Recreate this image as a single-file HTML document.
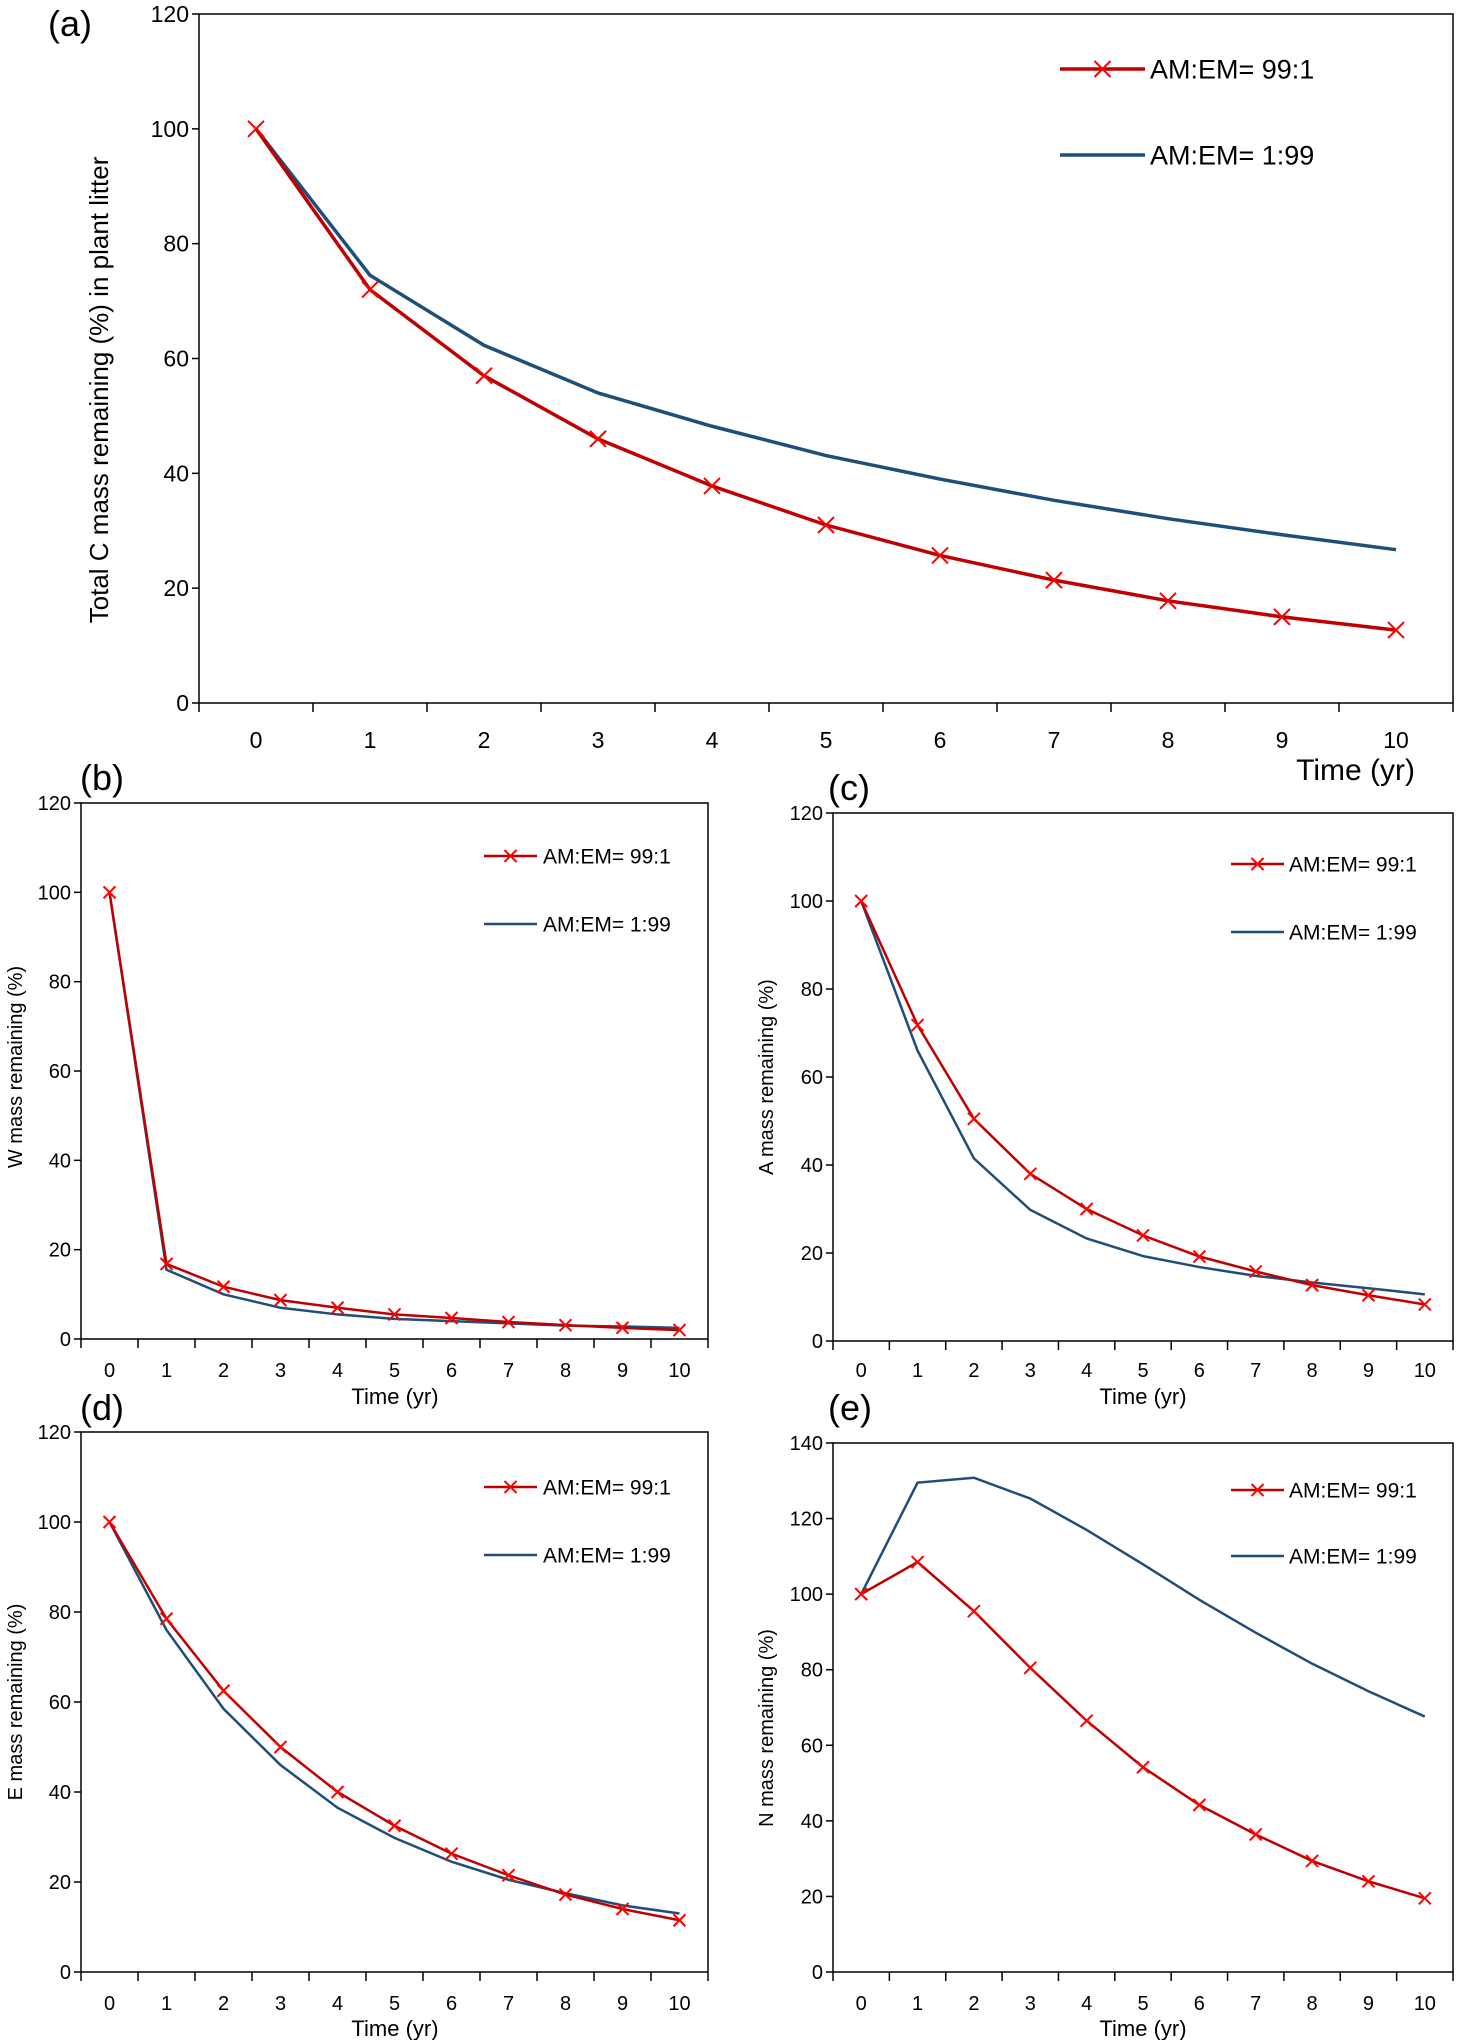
<!DOCTYPE html>
<html><head><meta charset="utf-8"><style>
html,body{margin:0;padding:0;background:#fff}
svg{display:block}
text{font-family:"Liberation Sans Narrow","Liberation Sans",sans-serif;fill:#000}
</style></head><body>
<svg id="fig" width="1457" height="2040" viewBox="0 0 1457 2040" xmlns="http://www.w3.org/2000/svg"></svg>
<script>
const years = [0,1,2,3,4,5,6,7,8,9,10];
const aRed = [100,72,57,46,37.8,31,25.7,21.4,17.8,15,12.7];
const aBlue = [100,74.5,62.3,54,48.2,43.1,39,35.3,32.1,29.3,26.7];
const bRed = [100,16.8,11.7,8.7,7,5.5,4.7,3.8,3.1,2.5,2];
const bBlue = [100,15.5,10,7,5.5,4.5,4,3.5,3,2.8,2.5];
const cRed = [100,71.8,50.5,38,30,24,19.2,15.8,12.7,10.4,8.3];
const cBlue = [100,66,41.5,29.8,23.3,19.3,16.8,14.8,13.3,12,10.6];
const dRed = [100,78.5,62.5,50,40,32.5,26.3,21.5,17.2,14,11.5];
const dBlue = [100,76,58.5,46,36.5,29.8,24.5,20.5,17.5,14.8,13];
const eRed = [100,108.5,95.5,80.5,66.5,54.2,44.2,36.4,29.4,24,19.5];
const eBlue = [100,129.5,130.8,125.3,117,107.9,98.5,89.8,81.6,74.3,67.6];
const ticks120 = [0,20,40,60,80,100,120];
const ticks140 = [0,20,40,60,80,100,120,140];
const legendRed = "AM:EM= 99:1";
const legendBlue = "AM:EM= 1:99";

const NS="http://www.w3.org/2000/svg";
const svg=document.getElementById('fig');
function mk(tag,attrs,parent){const e=document.createElementNS(NS,tag);for(const k in attrs)e.setAttribute(k,attrs[k]);(parent||svg).appendChild(e);return e;}

function panel(o){
  const g=mk('g',{});
  
  
  const n=years.length, bw=(o.R-o.L)/n;
  const xs=i=>o.L+bw*(i+0.5);
  const ys=v=>o.B-(v/o.max)*(o.B-o.T);
  const fr=mk('rect',{x:o.L,y:o.T,width:o.R-o.L,height:o.B-o.T,fill:'none',stroke:'#000','stroke-width':1.5},g);
  
  
  o.yt.forEach(v=>{
    mk('line',{x1:o.L-7,x2:o.L,y1:ys(v),y2:ys(v),stroke:'#000','stroke-width':1.5},g);
    const t=mk('text',{x:o.L-10,y:ys(v)+o.fs*0.35,'text-anchor':'end','font-size':o.fs},g);
    t.textContent=v;
    
    
  });
  for(let i=0;i<=n;i++){
    mk('line',{x1:o.L+bw*i,x2:o.L+bw*i,y1:o.B,y2:o.B+9,stroke:'#000','stroke-width':1.5},g);
  }
  years.forEach((yr,i)=>{
    const t=mk('text',{x:xs(i),y:o.xly,'text-anchor':'middle','font-size':o.fs},g);
    t.textContent=yr;
    
    
  });
  const xt=mk('text',{x:o.xtx,y:o.xty,'text-anchor':o.xta,'font-size':o.xfs},g);
  xt.textContent='Time (yr)';
  
  
  const yt=mk('text',{x:0,y:0,'text-anchor':'middle','font-size':o.yfs,transform:`translate(${o.ytx},${o.yty}) rotate(-90)`,style:'font-family:"Liberation Sans",sans-serif'},g);
  yt.textContent=o.ytitle;
  
  
  const pl=mk('text',{x:o.lx,y:o.ly,'font-size':o.lfs},g);
  pl.textContent=o.letter;
  
  
  const bl=mk('polyline',{points:o.blue.map((v,i)=>xs(i)+','+ys(v)).join(' '),fill:'none',stroke:'#1f4e79','stroke-width':o.lw},g);
  
  
  const rl=mk('polyline',{points:o.red.map((v,i)=>xs(i)+','+ys(v)).join(' '),fill:'none',stroke:'#c00000','stroke-width':o.lw},g);
  
  
  const ms=o.ms;
  o.red.forEach((v,i)=>{
    const x=xs(i),y=ys(v);
    const m=mk('path',{d:`M${x-ms},${y-ms}L${x+ms},${y+ms}M${x-ms},${y+ms}L${x+ms},${y-ms}`,stroke:'#ff0000','stroke-width':2,fill:'none'},g);
    
    
  });
  const lg=mk('g',{},g);
  
  
  mk('line',{x1:o.lg.x1,x2:o.lg.x2,y1:o.lg.y1,y2:o.lg.y1,stroke:'#c00000','stroke-width':o.lw},lg);
  const mx=(o.lg.x1+o.lg.x2)/2,my=o.lg.y1;
  mk('path',{d:`M${mx-ms},${my-ms}L${mx+ms},${my+ms}M${mx-ms},${my+ms}L${mx+ms},${my-ms}`,stroke:'#ff0000','stroke-width':2},lg);
  const t1=mk('text',{x:o.lg.tx,y:o.lg.y1+o.lg.fs*0.36,'font-size':o.lg.fs},lg);
  t1.textContent=legendRed;
  
  
  mk('line',{x1:o.lg.x1,x2:o.lg.x2,y1:o.lg.y2,y2:o.lg.y2,stroke:'#1f4e79','stroke-width':o.lw},lg);
  const t2=mk('text',{x:o.lg.tx,y:o.lg.y2+o.lg.fs*0.36,'font-size':o.lg.fs},lg);
  t2.textContent=legendBlue;
  
  
}

panel({name:'panel-a-total-c',L:199,R:1453,T:14,B:703,max:120,yt:ticks120,red:aRed,blue:aBlue,fs:23,xly:748,
  xtx:1415,xty:780,xta:'end',xfs:30,ytitle:'Total C mass remaining (%) in plant litter',ytx:108,yty:390,yfs:26,
  letter:'(a)',lx:48,ly:36,lfs:36,lw:3.5,ms:8,lg:{x1:1060,x2:1145,y1:69,y2:155,tx:1150,fs:27}});
panel({name:'panel-b-w-mass',L:81,R:708,T:803,B:1339,max:120,yt:ticks120,red:bRed,blue:bBlue,fs:20,xly:1377,
  xtx:395,xty:1404,xta:'middle',xfs:22,ytitle:'W mass remaining (%)',ytx:22,yty:1067,yfs:20,
  letter:'(b)',lx:80,ly:790,lfs:36,lw:2.5,ms:6,lg:{x1:484,x2:537,y1:856,y2:924,tx:543,fs:21}});
panel({name:'panel-c-a-mass',L:833,R:1453,T:813,B:1341,max:120,yt:ticks120,red:cRed,blue:cBlue,fs:20,xly:1377,
  xtx:1143,xty:1404,xta:'middle',xfs:22,ytitle:'A mass remaining (%)',ytx:773,yty:1077,yfs:20,
  letter:'(c)',lx:828,ly:800,lfs:36,lw:2.5,ms:6,lg:{x1:1231,x2:1284,y1:864,y2:932,tx:1289,fs:21}});
panel({name:'panel-d-e-mass',L:81,R:708,T:1432,B:1972,max:120,yt:ticks120,red:dRed,blue:dBlue,fs:20,xly:2010,
  xtx:395,xty:2036,xta:'middle',xfs:22,ytitle:'E mass remaining (%)',ytx:22,yty:1702,yfs:20,
  letter:'(d)',lx:80,ly:1420,lfs:36,lw:2.5,ms:6,lg:{x1:484,x2:537,y1:1487,y2:1555,tx:543,fs:21}});
panel({name:'panel-e-n-mass',L:833,R:1453,T:1443,B:1972,max:140,yt:ticks140,red:eRed,blue:eBlue,fs:20,xly:2010,
  xtx:1143,xty:2036,xta:'middle',xfs:22,ytitle:'N mass remaining (%)',ytx:773,yty:1728,yfs:20,
  letter:'(e)',lx:828,ly:1420,lfs:36,lw:2.5,ms:6,lg:{x1:1231,x2:1284,y1:1490,y2:1556,tx:1289,fs:21}});
</script>
</body></html>
